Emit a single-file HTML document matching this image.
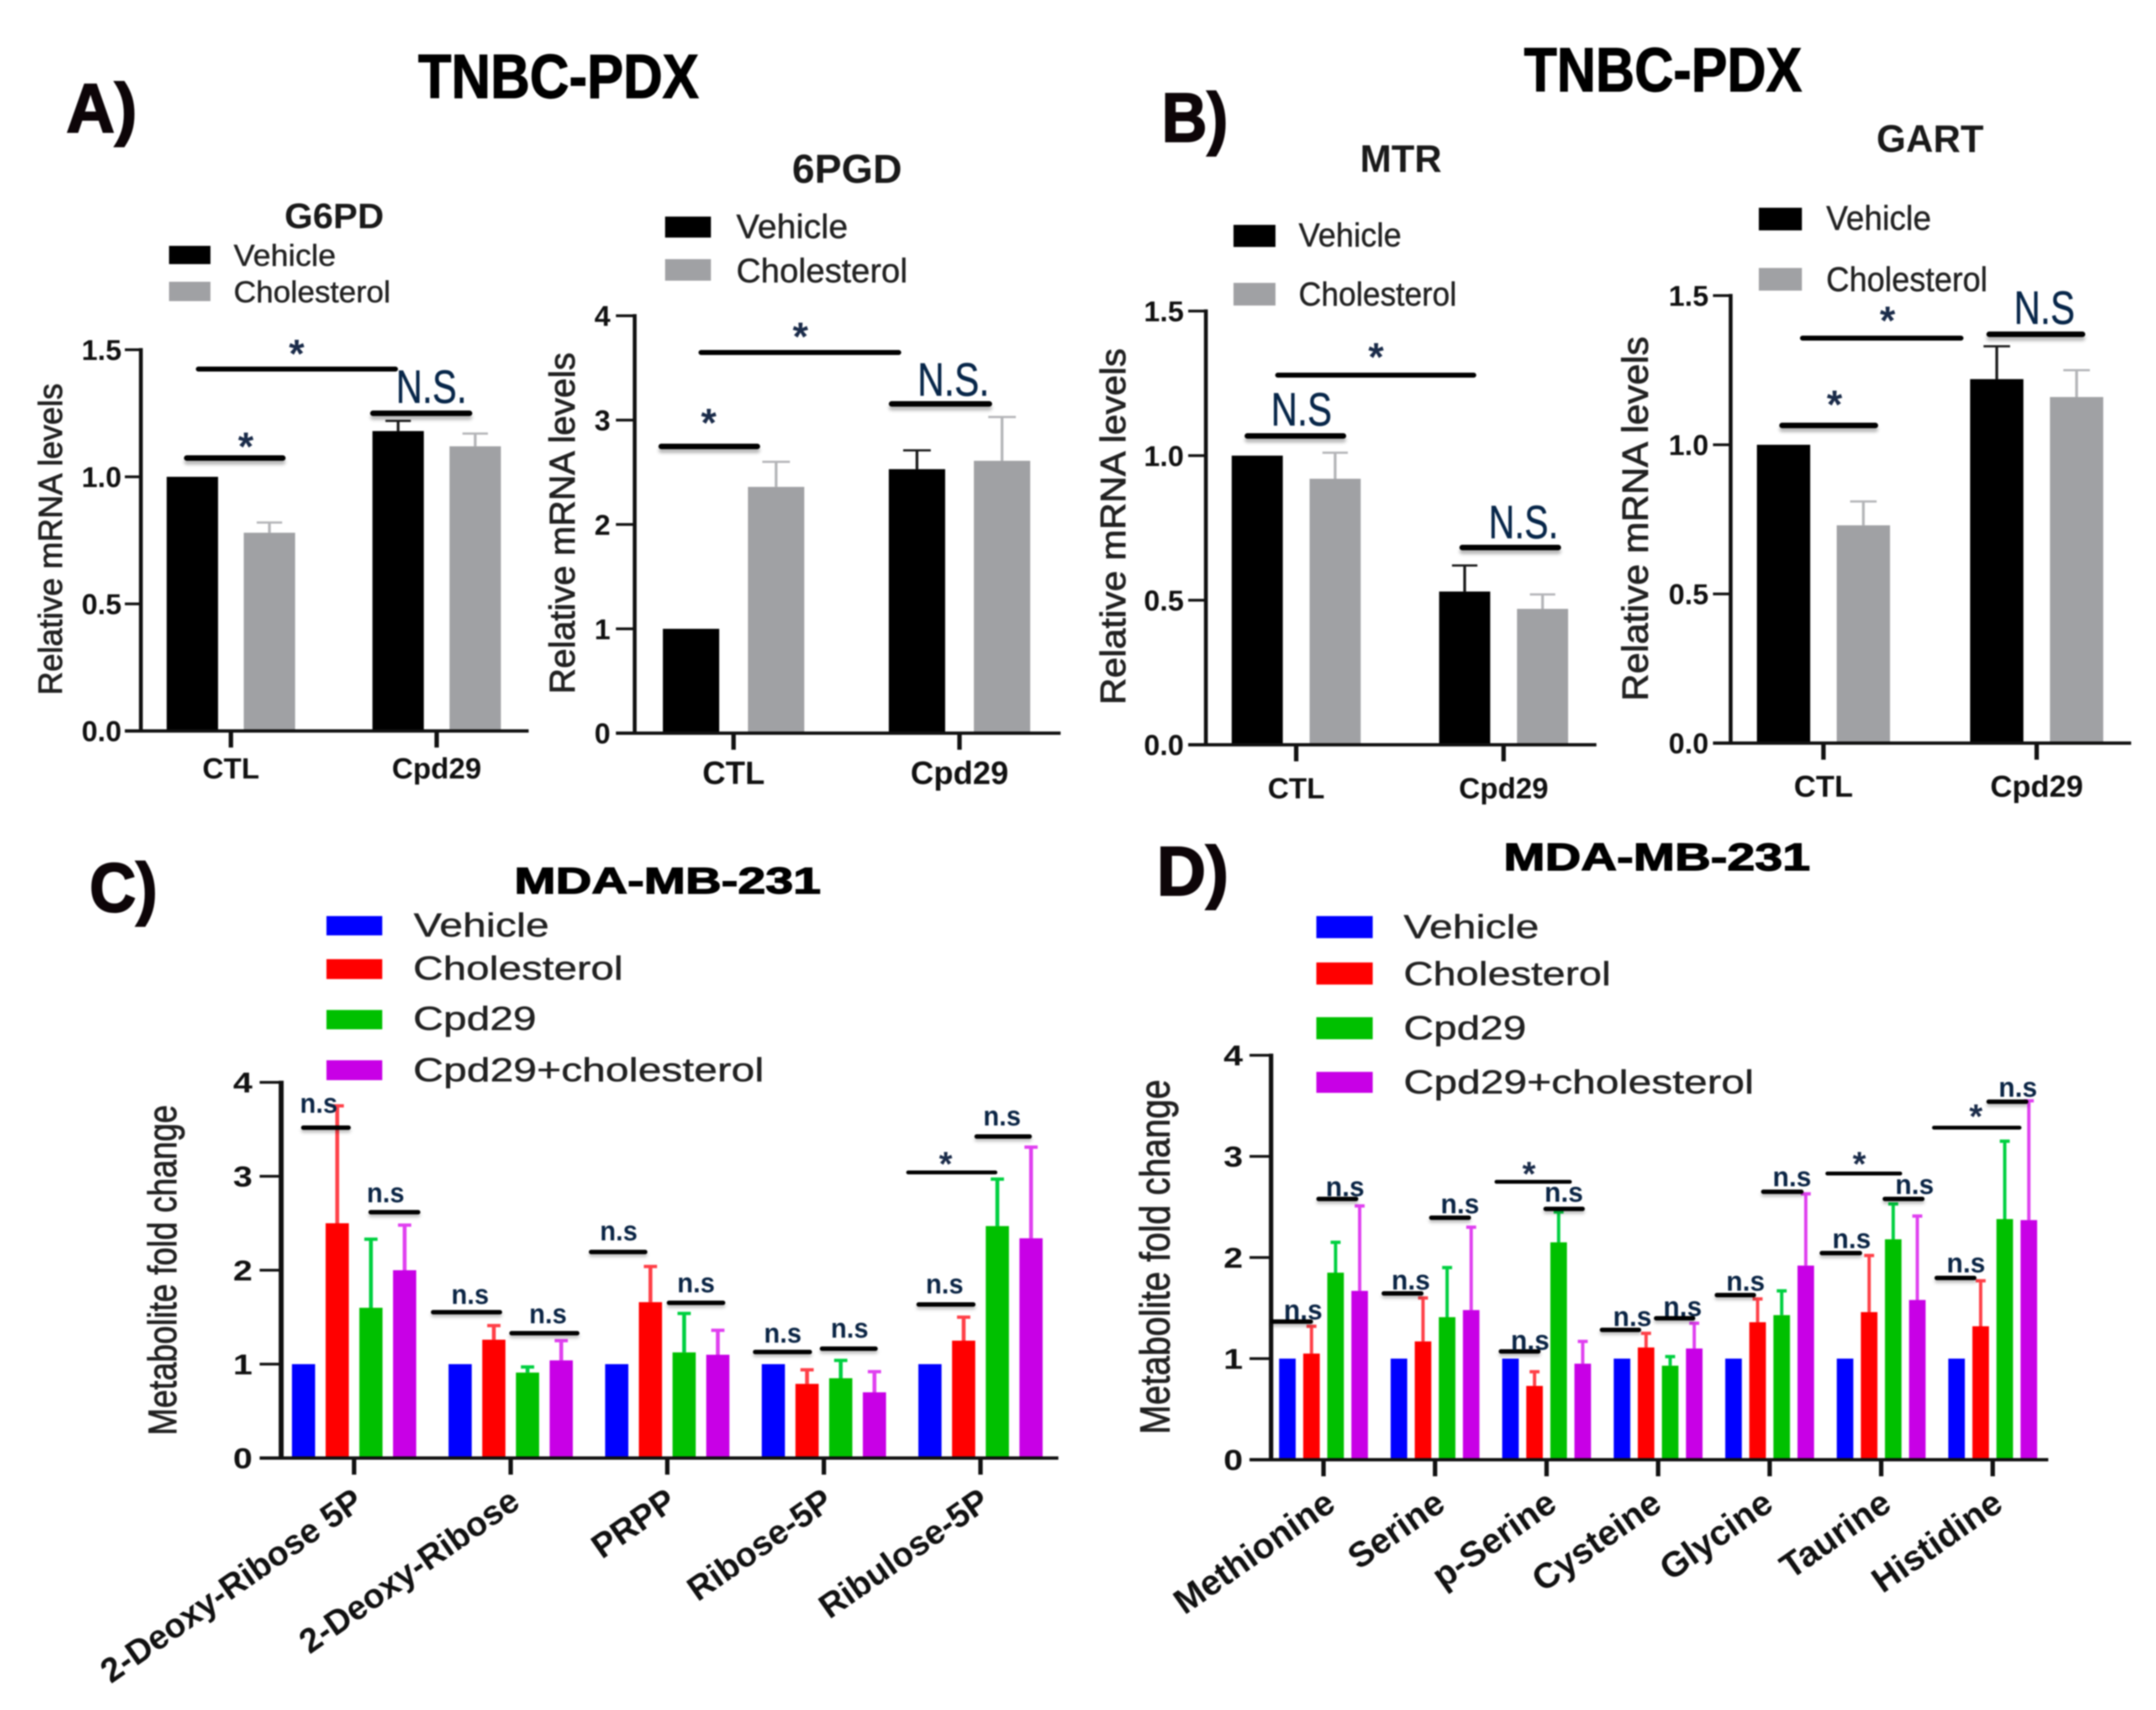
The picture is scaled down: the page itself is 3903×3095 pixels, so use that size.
<!DOCTYPE html>
<html lang="en">
<head>
<meta charset="utf-8">
<title>TNBC-PDX and MDA-MB-231 bar chart figure</title>
<style>
html,body{margin:0;padding:0;background:#fff;}
svg{display:block;filter:blur(1.3px);}
text{font-family:"Liberation Sans",sans-serif;fill:#111;}
.head{font-weight:700;fill:#000;stroke:#000;stroke-width:2px;}
.letter{font-weight:700;fill:#0d0508;stroke:#0d0508;stroke-width:3px;}
.sub{font-weight:700;fill:#1a1a1a;}
.leg{fill:#222;stroke:#222;stroke-width:.7px;}
.ylab{fill:#222;stroke:#222;stroke-width:1.3px;}
.sig{stroke:#000;stroke-width:10;stroke-linecap:round;filter:drop-shadow(0 7px 3px rgba(0,0,0,.28));}
.sig.long{stroke-width:9;filter:none;}
.sig-thin{stroke:#000;stroke-width:8;stroke-linecap:round;filter:drop-shadow(0 5px 3px rgba(0,0,0,.25));}
.sig-thin.long{stroke-width:7;filter:none;}
.nsbig{fill:#08274a;stroke:#08274a;stroke-width:.8px;}
.ns{font-weight:700;font-size:50px;fill:#0b2545;}
.star{font-weight:700;fill:#1b2c4a;text-anchor:middle;}
</style>
</head>
<body>
<svg xmlns="http://www.w3.org/2000/svg" width="3903" height="3095" viewBox="0 0 3903 3095">
<rect width="3903" height="3095" fill="#fff"/>

<text class="letter" x="120" y="239" font-size="125" textLength="128" lengthAdjust="spacingAndGlyphs">A)</text>
<text class="letter" x="2103" y="256" font-size="125" textLength="120" lengthAdjust="spacingAndGlyphs">B)</text>
<text class="letter" x="162" y="1650" font-size="125" textLength="123" lengthAdjust="spacingAndGlyphs">C)</text>
<text class="letter" x="2094" y="1620" font-size="125" textLength="130" lengthAdjust="spacingAndGlyphs">D)</text>

<text class="head" x="757" y="177" font-size="112" textLength="508" lengthAdjust="spacingAndGlyphs">TNBC-PDX</text>
<text class="head" x="2759" y="165" font-size="112" textLength="503" lengthAdjust="spacingAndGlyphs">TNBC-PDX</text>
<text class="head" x="931" y="1617" font-size="67" textLength="555" lengthAdjust="spacingAndGlyphs">MDA-MB-231</text>
<text class="head" x="2722" y="1575" font-size="70" textLength="555" lengthAdjust="spacingAndGlyphs">MDA-MB-231</text>

<text class="sub" x="515" y="413" font-size="64" textLength="180" lengthAdjust="spacingAndGlyphs">G6PD</text>
<text class="sub" x="1434" y="331" font-size="73" textLength="199" lengthAdjust="spacingAndGlyphs">6PGD</text>
<text class="sub" x="2462" y="311" font-size="70" textLength="148" lengthAdjust="spacingAndGlyphs">MTR</text>
<text class="sub" x="3397" y="275" font-size="70" textLength="194" lengthAdjust="spacingAndGlyphs">GART</text>

<!-- y axis titles -->
<text class="ylab" transform="translate(112,976) rotate(-90)" text-anchor="middle" font-size="60" textLength="564" lengthAdjust="spacingAndGlyphs">Relative mRNA levels</text>
<text class="ylab" transform="translate(1040,947) rotate(-90)" text-anchor="middle" font-size="65" textLength="618" lengthAdjust="spacingAndGlyphs">Relative mRNA levels</text>
<text class="ylab" transform="translate(2037,953) rotate(-90)" text-anchor="middle" font-size="64" textLength="645" lengthAdjust="spacingAndGlyphs">Relative mRNA levels</text>
<text class="ylab" transform="translate(2983,939) rotate(-90)" text-anchor="middle" font-size="66" textLength="660" lengthAdjust="spacingAndGlyphs">Relative mRNA levels</text>
<text class="ylab" transform="translate(319,2299) rotate(-90)" text-anchor="middle" font-size="72" textLength="598" lengthAdjust="spacingAndGlyphs">Metabolite fold change</text>
<text class="ylab" transform="translate(2117,2275) rotate(-90)" text-anchor="middle" font-size="76" textLength="642" lengthAdjust="spacingAndGlyphs">Metabolite fold change</text>

<!-- legends -->
<g>
<rect x="306" y="445" width="75" height="33" fill="#000"/>
<rect x="306" y="510" width="75" height="35" fill="#a0a1a4"/>
<text class="leg" x="423" y="481" font-size="55" textLength="185" lengthAdjust="spacingAndGlyphs">Vehicle</text>
<text class="leg" x="423" y="547" font-size="55" textLength="284" lengthAdjust="spacingAndGlyphs">Cholesterol</text>
</g>
<g>
<rect x="1204" y="392" width="83" height="38" fill="#000"/>
<rect x="1204" y="469" width="83" height="39" fill="#a0a1a4"/>
<text class="leg" x="1333" y="431" font-size="61" textLength="202" lengthAdjust="spacingAndGlyphs">Vehicle</text>
<text class="leg" x="1333" y="511" font-size="61" textLength="310" lengthAdjust="spacingAndGlyphs">Cholesterol</text>
</g>
<g>
<rect x="2233" y="407" width="76" height="40" fill="#000"/>
<rect x="2233" y="512" width="76" height="41" fill="#a0a1a4"/>
<text class="leg" x="2351" y="446" font-size="60" textLength="186" lengthAdjust="spacingAndGlyphs">Vehicle</text>
<text class="leg" x="2351" y="553" font-size="60" textLength="286" lengthAdjust="spacingAndGlyphs">Cholesterol</text>
</g>
<g>
<rect x="3184" y="376" width="78" height="41" fill="#000"/>
<rect x="3184" y="485" width="78" height="41" fill="#a0a1a4"/>
<text class="leg" x="3306" y="416" font-size="62" textLength="190" lengthAdjust="spacingAndGlyphs">Vehicle</text>
<text class="leg" x="3306" y="527" font-size="62" textLength="292" lengthAdjust="spacingAndGlyphs">Cholesterol</text>
</g>
<g>
<rect x="591" y="1658" width="101" height="35" fill="#0000ff"/>
<rect x="591" y="1736" width="101" height="36" fill="#ff0000"/>
<rect x="591" y="1828" width="101" height="35" fill="#00c000"/>
<rect x="591" y="1919" width="101" height="36" fill="#c800e6"/>
<text class="leg" x="749" y="1695" font-size="60" textLength="245" lengthAdjust="spacingAndGlyphs">Vehicle</text>
<text class="leg" x="748" y="1773" font-size="60" textLength="380" lengthAdjust="spacingAndGlyphs">Cholesterol</text>
<text class="leg" x="748" y="1864" font-size="60" textLength="223" lengthAdjust="spacingAndGlyphs">Cpd29</text>
<text class="leg" x="748" y="1957" font-size="60" textLength="635" lengthAdjust="spacingAndGlyphs">Cpd29+cholesterol</text>
</g>
<g>
<rect x="2383" y="1658" width="102" height="40" fill="#0000ff"/>
<rect x="2383" y="1742" width="102" height="40" fill="#ff0000"/>
<rect x="2383" y="1841" width="102" height="40" fill="#00c000"/>
<rect x="2383" y="1940" width="102" height="38" fill="#c800e6"/>
<text class="leg" x="2541" y="1698" font-size="60" textLength="245" lengthAdjust="spacingAndGlyphs">Vehicle</text>
<text class="leg" x="2541" y="1783" font-size="60" textLength="375" lengthAdjust="spacingAndGlyphs">Cholesterol</text>
<text class="leg" x="2541" y="1881" font-size="60" textLength="222" lengthAdjust="spacingAndGlyphs">Cpd29</text>
<text class="leg" x="2541" y="1979" font-size="60" textLength="634" lengthAdjust="spacingAndGlyphs">Cpd29+cholesterol</text>
</g>

<g id="g6pd-chart"></g>
<g id="pgd-chart"></g>
<g id="mtr-chart"></g>
<g id="gart-chart"></g>
<g id="c-chart"></g>
<g id="d-chart"></g>

<!-- significance annotations -->
<g>
<line class="sig long" x1="359" x2="716" y1="668" y2="668"/>
<text class="star" x="537" y="665" font-size="72">*</text>
<line class="sig" x1="338" x2="512" y1="829" y2="829"/>
<text class="star" x="445" y="833" font-size="72">*</text>
<line class="sig" x1="675" x2="850" y1="748" y2="748"/>
<text class="nsbig" x="717" y="729" font-size="84" textLength="128" lengthAdjust="spacingAndGlyphs">N.S.</text>
</g>
<g>
<line class="sig long" x1="1269" x2="1627" y1="638" y2="638"/>
<text class="star" x="1449" y="634" font-size="72">*</text>
<line class="sig" x1="1197" x2="1371" y1="808" y2="808"/>
<text class="star" x="1283" y="790" font-size="72">*</text>
<line class="sig" x1="1614" x2="1791" y1="731" y2="731"/>
<text class="nsbig" x="1661" y="716" font-size="84" textLength="130" lengthAdjust="spacingAndGlyphs">N.S.</text>
</g>
<g>
<line class="sig long" x1="2313" x2="2668" y1="679" y2="679"/>
<text class="star" x="2491" y="671" font-size="72">*</text>
<line class="sig" x1="2258" x2="2432" y1="789" y2="789"/>
<text class="nsbig" x="2301" y="770" font-size="84" textLength="110" lengthAdjust="spacingAndGlyphs">N.S</text>
<line class="sig" x1="2647" x2="2821" y1="991" y2="991"/>
<text class="nsbig" x="2695" y="974" font-size="84" textLength="126" lengthAdjust="spacingAndGlyphs">N.S.</text>
</g>
<g>
<line class="sig long" x1="3263" x2="3550" y1="612" y2="612"/>
<text class="star" x="3417" y="605" font-size="72">*</text>
<line class="sig" x1="3226" x2="3395" y1="770" y2="770"/>
<text class="star" x="3321" y="757" font-size="72">*</text>
<line class="sig" x1="3601" x2="3770" y1="605" y2="605"/>
<text class="nsbig" x="3646" y="586" font-size="84" textLength="110" lengthAdjust="spacingAndGlyphs">N.S</text>
</g>
<g>
<line class="sig-thin" x1="549" x2="631" y1="2041" y2="2041"/>
<text class="ns" x="543" y="2014" textLength="68" lengthAdjust="spacingAndGlyphs">n.s</text>
<line class="sig-thin" x1="671" x2="757" y1="2194" y2="2194"/>
<text class="ns" x="664" y="2176" textLength="68" lengthAdjust="spacingAndGlyphs">n.s</text>
<line class="sig-thin" x1="784" x2="905" y1="2375" y2="2375"/>
<text class="ns" x="817" y="2360" textLength="68" lengthAdjust="spacingAndGlyphs">n.s</text>
<line class="sig-thin" x1="926" x2="1045" y1="2413" y2="2413"/>
<text class="ns" x="958" y="2395" textLength="68" lengthAdjust="spacingAndGlyphs">n.s</text>
<line class="sig-thin" x1="1070" x2="1168" y1="2266" y2="2266"/>
<text class="ns" x="1086" y="2245" textLength="68" lengthAdjust="spacingAndGlyphs">n.s</text>
<line class="sig-thin" x1="1211" x2="1309" y1="2358" y2="2358"/>
<text class="ns" x="1226" y="2339" textLength="68" lengthAdjust="spacingAndGlyphs">n.s</text>
<line class="sig-thin" x1="1367" x2="1466" y1="2447" y2="2447"/>
<text class="ns" x="1383" y="2430" textLength="68" lengthAdjust="spacingAndGlyphs">n.s</text>
<line class="sig-thin" x1="1488" x2="1585" y1="2441" y2="2441"/>
<text class="ns" x="1504" y="2421" textLength="68" lengthAdjust="spacingAndGlyphs">n.s</text>
<line class="sig-thin" x1="1663" x2="1762" y1="2361" y2="2361"/>
<text class="ns" x="1676" y="2341" textLength="68" lengthAdjust="spacingAndGlyphs">n.s</text>
<line class="sig-thin long" x1="1644" x2="1802" y1="2122" y2="2122"/>
<text class="star" x="1712" y="2128" font-size="62">*</text>
<line class="sig-thin" x1="1768" x2="1864" y1="2057" y2="2057"/>
<text class="ns" x="1780" y="2037" textLength="68" lengthAdjust="spacingAndGlyphs">n.s</text>
</g>
<g>
<line class="sig-thin" x1="2304" x2="2373" y1="2392" y2="2392"/>
<text class="ns" x="2324" y="2388" textLength="70" lengthAdjust="spacingAndGlyphs">n.s</text>
<line class="sig-thin" x1="2387" x2="2455" y1="2170" y2="2170"/>
<text class="ns" x="2400" y="2165" textLength="70" lengthAdjust="spacingAndGlyphs">n.s</text>
<line class="sig-thin" x1="2505" x2="2573" y1="2341" y2="2341"/>
<text class="ns" x="2519" y="2334" textLength="70" lengthAdjust="spacingAndGlyphs">n.s</text>
<line class="sig-thin" x1="2591" x2="2659" y1="2204" y2="2204"/>
<text class="ns" x="2608" y="2196" textLength="70" lengthAdjust="spacingAndGlyphs">n.s</text>
<line class="sig-thin" x1="2717" x2="2785" y1="2446" y2="2446"/>
<text class="ns" x="2735" y="2443" textLength="70" lengthAdjust="spacingAndGlyphs">n.s</text>
<line class="sig-thin long" x1="2709" x2="2842" y1="2139" y2="2139"/>
<text class="star" x="2768" y="2146" font-size="62">*</text>
<line class="sig-thin" x1="2798" x2="2865" y1="2188" y2="2188"/>
<text class="ns" x="2796" y="2175" textLength="70" lengthAdjust="spacingAndGlyphs">n.s</text>
<line class="sig-thin" x1="2900" x2="2967" y1="2407" y2="2407"/>
<text class="ns" x="2920" y="2400" textLength="70" lengthAdjust="spacingAndGlyphs">n.s</text>
<line class="sig-thin" x1="2998" x2="3065" y1="2386" y2="2386"/>
<text class="ns" x="3011" y="2382" textLength="70" lengthAdjust="spacingAndGlyphs">n.s</text>
<line class="sig-thin" x1="3108" x2="3175" y1="2344" y2="2344"/>
<text class="ns" x="3125" y="2336" textLength="70" lengthAdjust="spacingAndGlyphs">n.s</text>
<line class="sig-thin" x1="3192" x2="3261" y1="2157" y2="2157"/>
<text class="ns" x="3209" y="2147" textLength="70" lengthAdjust="spacingAndGlyphs">n.s</text>
<line class="sig-thin" x1="3298" x2="3367" y1="2268" y2="2268"/>
<text class="ns" x="3317" y="2259" textLength="70" lengthAdjust="spacingAndGlyphs">n.s</text>
<line class="sig-thin long" x1="3308" x2="3440" y1="2124" y2="2124"/>
<text class="star" x="3366" y="2128" font-size="62">*</text>
<line class="sig-thin" x1="3412" x2="3480" y1="2170" y2="2170"/>
<text class="ns" x="3431" y="2161" textLength="70" lengthAdjust="spacingAndGlyphs">n.s</text>
<line class="sig-thin" x1="3506" x2="3574" y1="2313" y2="2313"/>
<text class="ns" x="3524" y="2303" textLength="70" lengthAdjust="spacingAndGlyphs">n.s</text>
<line class="sig-thin long" x1="3501" x2="3656" y1="2041" y2="2041"/>
<text class="star" x="3577" y="2042" font-size="62">*</text>
<line class="sig-thin" x1="3600" x2="3668" y1="1994" y2="1994"/>
<text class="ns" x="3618" y="1985" textLength="70" lengthAdjust="spacingAndGlyphs">n.s</text>
</g>
</svg>

<script>
// Two-group mRNA charts
const mrnaCategories = ['CTL', 'Cpd29'];
const mrnaTicksDecimal = ['0.0', '0.5', '1.0', '1.5'];
const pgdTicks = ['0', '1', '2', '3', '4'];

const g6pdVehicle = [1.0, 1.18];
const g6pdVehicleTop = [1.0, 1.22];
const g6pdCholesterol = [0.78, 1.12];
const g6pdCholesterolTop = [0.82, 1.17];

const pgdVehicle = [1.0, 2.53];
const pgdVehicleTop = [1.0, 2.71];
const pgdCholesterol = [2.36, 2.61];
const pgdCholesterolTop = [2.6, 3.03];

const mtrVehicle = [1.0, 0.53];
const mtrVehicleTop = [1.0, 0.62];
const mtrCholesterol = [0.92, 0.47];
const mtrCholesterolTop = [1.01, 0.52];

const gartVehicle = [1.0, 1.22];
const gartVehicleTop = [1.0, 1.33];
const gartCholesterol = [0.73, 1.16];
const gartCholesterolTop = [0.81, 1.25];

// Panel C metabolites
const foldTicks = ['0', '1', '2', '3', '4'];
const cCategories = ['2-Deoxy-Ribose 5P', '2-Deoxy-Ribose', 'PRPP', 'Ribose-5P', 'Ribulose-5P'];
const cVehicle = [1, 1, 1, 1, 1];
const cVehicleTop = [1, 1, 1, 1, 1];
const cCholesterol = [2.5, 1.26, 1.66, 0.79, 1.25];
const cCholesterolTop = [3.75, 1.41, 2.04, 0.94, 1.5];
const cCpd29 = [1.6, 0.91, 1.125, 0.85, 2.47];
const cCpd29Top = [2.33, 0.97, 1.54, 1.04, 2.97];
const cCombo = [2.0, 1.04, 1.1, 0.7, 2.34];
const cComboTop = [2.48, 1.25, 1.36, 0.92, 3.31];

// Panel D metabolites
const dCategories = ['Methionine', 'Serine', 'p-Serine', 'Cysteine', 'Glycine', 'Taurine', 'Histidine'];
const dVehicle = [1, 1, 1, 1, 1, 1, 1];
const dVehicleTop = [1, 1, 1, 1, 1, 1, 1];
const dCholesterol = [1.05, 1.17, 0.73, 1.11, 1.36, 1.46, 1.32];
const dCholesterolTop = [1.32, 1.6, 0.87, 1.25, 1.59, 2.02, 1.77];
const dCpd29 = [1.85, 1.41, 2.15, 0.93, 1.43, 2.18, 2.38];
const dCpd29Top = [2.15, 1.9, 2.45, 1.02, 1.67, 2.53, 3.15];
const dCombo = [1.67, 1.48, 0.95, 1.1, 1.92, 1.58, 2.37];
const dComboTop = [2.51, 2.3, 1.17, 1.35, 2.63, 2.41, 3.55];

const SVG_NS = 'http://www.w3.org/2000/svg';

function makeEl(parent, tag, attrs, name) {
  const el = document.createElementNS(SVG_NS, tag);
  for (const k in attrs) el.setAttribute(k, attrs[k]);
  
  
  parent.appendChild(el);
  return el;
}

function drawChart(id, g) {
  const root = document.getElementById(id);
  const maxV = parseFloat(g.ticks[g.ticks.length - 1]);
  const yScale = v => g.y0 - v * (g.y0 - g.yTop) / maxV;
  const xGroup = i => g.x0 + i * g.step;
  const xBar = (i, s) => xGroup(i) + (s - (g.series.length - 1) / 2) * g.barStep;

  g.series.forEach((s, si) => {
    s.values.forEach((v, i) => {
      const cx = xBar(i, si);
      const top = s.tops[i];
      if (top > v) {
        makeEl(root, 'line', {x1: cx, x2: cx, y1: yScale(v), y2: yScale(top), stroke: s.err, 'stroke-width': g.stem}, 'error-bar-' + s.key + '-' + i);
        makeEl(root, 'line', {x1: cx - g.cap / 2, x2: cx + g.cap / 2, y1: yScale(top), y2: yScale(top), stroke: s.err, 'stroke-width': g.capW}, 'error-cap-' + s.key + '-' + i);
      }
      makeEl(root, 'rect', {x: cx - g.barW / 2, y: yScale(v), width: g.barW, height: g.y0 - yScale(v), fill: s.color}, 'bar-' + s.key + '-' + i);
    });
  });

  makeEl(root, 'line', {x1: g.axisX, x2: g.axisX, y1: g.yTop - 3, y2: g.y0 + 3, stroke: '#111', 'stroke-width': g.axisW}, 'y-axis');
  makeEl(root, 'line', {x1: g.tickL, x2: g.xEnd, y1: g.y0, y2: g.y0, stroke: '#111', 'stroke-width': 6}, 'x-axis');

  g.ticks.forEach(t => {
    const y = yScale(parseFloat(t));
    makeEl(root, 'line', {x1: g.tickL, x2: g.axisX, y1: y, y2: y, stroke: '#111', 'stroke-width': 5}, 'y-tick-' + t);
    const attrs = {x: g.labelR, y: y + g.tickSize * 0.36, 'text-anchor': 'end', 'font-size': g.tickSize, 'font-weight': 700};
    if (g.tickStretch) {
      attrs['textLength'] = g.tickStretch;
      attrs['lengthAdjust'] = 'spacingAndGlyphs';
    }
    const lbl = makeEl(root, 'text', attrs, 'y-tick-label-' + t);
    lbl.textContent = t;
  });

  g.categories.forEach((c, i) => {
    const x = xGroup(i);
    makeEl(root, 'line', {x1: x, x2: x, y1: g.y0, y2: g.y0 + 30, stroke: '#111', 'stroke-width': 8}, 'x-tick-' + i);
    let lbl;
    if (g.angle) {
      const nudge = g.catNudge ? g.catNudge[i] : 0;
      lbl = makeEl(root, 'text', {transform: 'translate(' + (x + g.catDx + nudge) + ',' + g.catY + ') rotate(' + g.angle + ')', 'text-anchor': 'end', 'font-size': g.catSize, 'font-weight': 700}, 'x-tick-label-' + i);
    } else {
      lbl = makeEl(root, 'text', {x: x, y: g.catY, 'text-anchor': 'middle', 'font-size': g.catSize, 'font-weight': 700}, 'x-tick-label-' + i);
    }
    lbl.textContent = c;
  });
}

const BLACK = '#000000', GREY = '#a0a1a4';
const pair = (v, vt, c, ct) => [
  {key: 'vehicle', values: v, tops: vt, color: BLACK, err: '#1a1a1a'},
  {key: 'cholesterol', values: c, tops: ct, color: GREY, err: '#b4b5b8'}
];
const quad = (v, vt, c, ct, p, pt, m, mt) => [
  {key: 'vehicle', values: v, tops: vt, color: '#0000ff', err: '#3030ff'},
  {key: 'cholesterol', values: c, tops: ct, color: '#ff0000', err: '#ff4048'},
  {key: 'cpd29', values: p, tops: pt, color: '#00c000', err: '#00d040'},
  {key: 'cpd29-cholesterol', values: m, tops: mt, color: '#c800e6', err: '#e040f0'}
];

drawChart('g6pd-chart', {categories: mrnaCategories, ticks: mrnaTicksDecimal, series: pair(g6pdVehicle, g6pdVehicleTop, g6pdCholesterol, g6pdCholesterolTop),
  y0: 1323, yTop: 633, x0: 418, step: 372.5, barStep: 139.5, barW: 93, axisX: 255, axisW: 7, tickL: 226, xEnd: 957, labelR: 220, tickSize: 52, catY: 1409, catSize: 53, stem: 5, cap: 46, capW: 4});
drawChart('pgd-chart', {categories: mrnaCategories, ticks: pgdTicks, series: pair(pgdVehicle, pgdVehicleTop, pgdCholesterol, pgdCholesterolTop),
  y0: 1327, yTop: 571.5, x0: 1328, step: 409, barStep: 154, barW: 102, axisX: 1149, axisW: 7, tickL: 1115, xEnd: 1920, labelR: 1105, tickSize: 52, catY: 1419, catSize: 58, stem: 5, cap: 50, capW: 4});
drawChart('mtr-chart', {categories: mrnaCategories, ticks: mrnaTicksDecimal, series: pair(mtrVehicle, mtrVehicleTop, mtrCholesterol, mtrCholesterolTop),
  y0: 1348, yTop: 563, x0: 2346.5, step: 375.5, barStep: 141, barW: 92.5, axisX: 2183, axisW: 7, tickL: 2151, xEnd: 2890, labelR: 2143, tickSize: 52, catY: 1445, catSize: 53, stem: 5, cap: 46, capW: 4});
drawChart('gart-chart', {categories: mrnaCategories, ticks: mrnaTicksDecimal, series: pair(gartVehicle, gartVehicleTop, gartCholesterol, gartCholesterolTop),
  y0: 1345, yTop: 535, x0: 3301, step: 386, barStep: 144.5, barW: 96.5, axisX: 3133, axisW: 7, tickL: 3101, xEnd: 3858, labelR: 3093, tickSize: 52, catY: 1442, catSize: 55, stem: 5, cap: 48, capW: 4});
drawChart('c-chart', {categories: cCategories, ticks: foldTicks, series: quad(cVehicle, cVehicleTop, cCholesterol, cCholesterolTop, cCpd29, cCpd29Top, cCombo, cComboTop),
  y0: 2639, yTop: 1959, x0: 641, step: 283.5, barStep: 61, barW: 42, axisX: 509, axisW: 9, tickL: 470, xEnd: 1916, labelR: 457, tickSize: 52, tickStretch: 35, angle: -35, catDx: 20, catY: 2726, catSize: 62, stem: 7, cap: 24, capW: 6});
drawChart('d-chart', {categories: dCategories, ticks: foldTicks, series: quad(dVehicle, dVehicleTop, dCholesterol, dCholesterolTop, dCpd29, dCpd29Top, dCombo, dComboTop),
  y0: 2642, yTop: 1910, x0: 2396, step: 201.9, barStep: 43.6, barW: 30, axisX: 2301, axisW: 8, tickL: 2262, xEnd: 3708, labelR: 2250, tickSize: 52, tickStretch: 35, angle: -35, catDx: 22, catY: 2730, catSize: 64, catNudge: [3, 0, 0, -12, -12, 0, 0], stem: 6, cap: 18, capW: 6});
</script>
</body>
</html>
